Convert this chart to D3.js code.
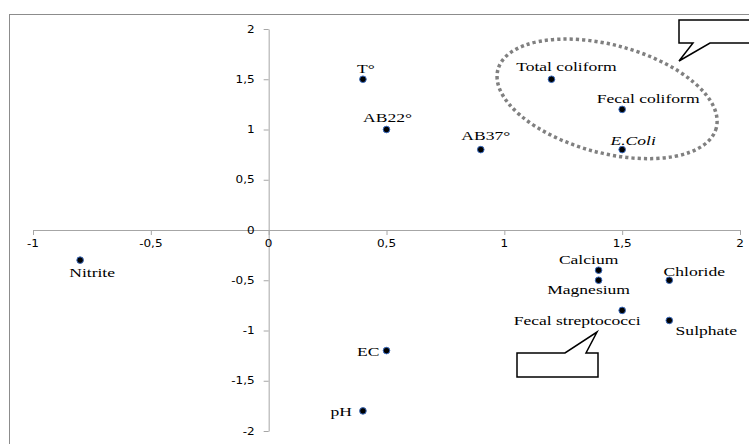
<!DOCTYPE html>
<html>
<head>
<meta charset="utf-8">
<script src="https://cdn.jsdelivr.net/npm/d3@7"></script>
<style>
  html, body { margin: 0; padding: 0; background: #fff; }
  svg { display: block; }
</style>
</head>
<body>
<svg id="chart" width="749" height="444"></svg>
<script>
// ---- data ----
const names = ["T°", "AB22°", "AB37°", "Total coliform", "Fecal coliform", "E.Coli",
  "Nitrite", "Calcium", "Magnesium", "Chloride", "Fecal streptococci", "Sulphate", "EC", "pH"];
const xValues = [0.4, 0.5, 0.9, 1.2, 1.5, 1.5, -0.8, 1.4, 1.4, 1.7, 1.5, 1.7, 0.5, 0.4];
const yValues = [1.5, 1.0, 0.8, 1.5, 1.2, 0.8, -0.3, -0.4, -0.5, -0.5, -0.8, -0.9, -1.2, -1.8];
const xTicks = [-1, -0.5, 0, 0.5, 1, 1.5, 2];
const yTicks = [-2, -1.5, -1, -0.5, 0, 0.5, 1, 1.5, 2];

// ---- layout (label placement relative to each point, in px) ----
const labelLayout = {
  "T°": [3, -6, "middle"],
  "AB22°": [1, -8, "middle"],
  "AB37°": [5, -10, "middle"],
  "Total coliform": [15, -8, "middle"],
  "Fecal coliform": [26, -6, "middle"],
  "E.Coli": [11, -5, "middle"],
  "Nitrite": [12, 17, "middle"],
  "Calcium": [-10, -6, "middle"],
  "Magnesium": [-10, 14, "middle"],
  "Chloride": [25, -4, "middle"],
  "Fecal streptococci": [-45, 15, "middle"],
  "Sulphate": [37, 15, "middle"],
  "EC": [-7, 5, "end"],
  "pH": [-11, 5, "end"]
};

const svg = d3.select("#chart");
const x = d3.scaleLinear().domain([-1, 2]).range([33, 740]);
const y = d3.scaleLinear().domain([-2, 2]).range([431, 29]);
const axisColor = "#a6a6a6";
const fmt = d => String(d).replace(".", ",");

// outer frame
svg.append("rect").attr("x", 9.5).attr("y", 14.5).attr("width", 800).attr("height", 500)
  .attr("fill", "none").attr("stroke", "#8c8c8c").attr("stroke-width", 1);

// axes
const gx = svg.append("g").attr("transform", `translate(0,${y(0)})`)
  .call(d3.axisBottom(x).tickValues(xTicks).tickSize(5).tickSizeOuter(0).tickFormat(""));
const gy = svg.append("g").attr("transform", `translate(${x(0)},0)`)
  .call(d3.axisLeft(y).tickValues(yTicks).tickSize(5).tickSizeOuter(0).tickFormat(""));
[gx, gy].forEach(g => {
  g.select(".domain").attr("stroke", axisColor);
  g.selectAll(".tick line").attr("stroke", axisColor);
});

const tickFont = "'DejaVu Sans', Verdana, sans-serif";
svg.append("g").selectAll("text").data(xTicks).join("text")
  .attr("transform", d => `translate(${x(d)},${y(0) + 17}) scale(1.2,1)`)
  .attr("text-anchor", "middle").attr("font-family", tickFont).attr("font-size", 10)
  .attr("fill", "#000").text(fmt);
svg.append("g").selectAll("text").data(yTicks).join("text")
  .attr("transform", d => `translate(${x(0) - 14},${y(d) + 3.6}) scale(1.2,1)`)
  .attr("text-anchor", "end").attr("font-family", tickFont).attr("font-size", 10)
  .attr("fill", "#000").text(fmt);

// dotted ellipse annotation
svg.append("ellipse")
  .attr("transform", `translate(${x(1.436)},${y(1.305)}) rotate(15)`)
  .attr("rx", 113).attr("ry", 54)
  .attr("fill", "none").attr("stroke", "#808080").attr("stroke-width", 3.5)
  .attr("stroke-dasharray", "3.2,3");

// callouts
svg.append("path")
  .attr("d", "M679,20 H760 V43 H710 L679,61 L693,43 H679 Z")
  .attr("fill", "#fff").attr("stroke", "#000").attr("stroke-width", 1.5);
svg.append("path")
  .attr("d", "M517,353 H565 L597,332 L586,353 H598 V377 H517 Z")
  .attr("fill", "#fff").attr("stroke", "#000").attr("stroke-width", 1.5);

// points
const pts = names.map((n, i) => ({ name: n, x: xValues[i], y: yValues[i] }));
svg.append("g").selectAll("circle").data(pts).join("circle")
  .attr("cx", d => x(d.x)).attr("cy", d => y(d.y)).attr("r", 3.3)
  .attr("fill", "#000").attr("stroke", "#3b6cc0").attr("stroke-width", 1);

// labels
svg.append("g").selectAll("text").data(pts).join("text")
  .attr("transform", d => {
    const l = labelLayout[d.name];
    return `translate(${x(d.x) + l[0]},${y(d.y) + l[1]}) scale(1.3,1)`;
  })
  .attr("text-anchor", d => labelLayout[d.name][2])
  .attr("font-family", "'Liberation Serif', 'Times New Roman', serif")
  .attr("font-size", 13.5)
  .attr("font-style", d => d.name === "E.Coli" ? "italic" : "normal")
  .attr("fill", "#000")
  .text(d => d.name);
</script>
</body>
</html>
